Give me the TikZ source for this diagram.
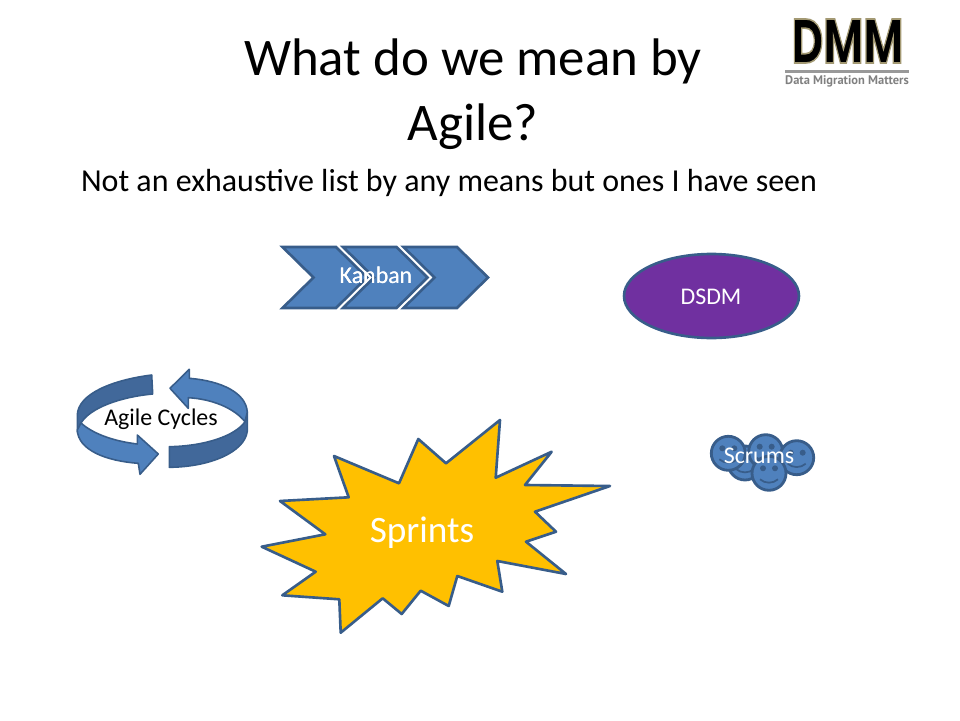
\documentclass[tikz,border=0pt]{standalone}
\usepackage{fontspec}
\setmainfont{Carlito}
\newfontfamily\logofont{Poppins}
\newfontfamily\tagfont{PT Sans}
\usetikzlibrary{shapes.geometric}
\definecolor{bluefill}{HTML}{4F81BD}
\definecolor{blueline}{HTML}{385D8A}
\definecolor{bluedark}{HTML}{41689A}
\definecolor{purplefill}{HTML}{7030A0}
\definecolor{starfill}{HTML}{FFC000}
\tikzset{
  shapeblue/.style={fill=bluefill,draw=blueline,line width=1.5pt,line join=round},
  banddark/.style={fill=bluedark,draw=blueline,line width=0.9pt,line join=round},
  bandlight/.style={fill=bluefill,draw=blueline,line width=0.9pt,line join=round},
  label/.style={text=white,inner sep=0pt,font=\fontsize{13.6}{16}\selectfont}
}
\newcommand{\chevron}[1]{
  \draw[shapeblue,line join=miter] (#1,247) -- ++(53.5,0) -- ++(31,30.5) -- ++(-31,30.5) -- ++(-53.5,0) -- ++(31,-30.5) -- cycle;
}
\newcommand{\logotext}[1]{\special{pdf:literal q 0.64 0.6 0.45 RG 2 Tr 0.9 w}#1\special{pdf:literal 0 Tr Q}}
\begin{document}
\begin{tikzpicture}[x=0.02cm,y=-0.02cm]
  \useasboundingbox (0,0) rectangle (960,720);
  \node[align=center,inner sep=0pt,font=\fontsize{30.1}{36.9}\selectfont] (title) at (473,94.5) {What do we mean by\\Agile?};
  \node[inner sep=0pt,font=\fontsize{18.2}{22}\selectfont] (subtitle) at (449,183) {Not an exhaustive list by any means but ones I have seen};

  \node[inner sep=0pt,font=\logofont\bfseries\fontsize{34}{34}\selectfont] (logo) at (847.5,41) {\scalebox{0.73}[1.05]{\logotext{DMM}}};
  \fill[gray!80] (785,69.5) rectangle (909,72.5);
  \node[inner sep=0pt,text=gray,font=\tagfont\bfseries\fontsize{7.1}{8}\selectfont] (tagline) at (847,81) {Data Migration Matters};

  \foreach \x in {282.5,343,403.5}
    \chevron{\x}
  \node[label] (kanban) at (376,275) {Kanban};

  \node[ellipse,draw=blueline,fill=purplefill,line width=1.5pt,minimum width=3.5cm,minimum height=1.68cm,inner sep=0pt] (dsdmshape) at (711.5,296) {};
  \node[label] (dsdm) at (711,297) {DSDM};

  \draw[banddark] (151.7,375) .. controls (112,380) and (78,394) .. (77.3,415) -- (77.3,432) -- (81,423)
    .. controls (90,408) and (120,397) .. (152.7,394) -- cycle;
  \draw[bandlight] (81,423) .. controls (92,433) and (112,441) .. (137.3,444) -- (137.3,435) -- (158.3,454)
    -- (140,474.3) -- (138.3,463.3) .. controls (106,461) and (78,450) .. (77.3,430) -- cycle;
  \draw[banddark] (169.3,446.7) .. controls (205,446) and (235,436) .. (245,421.7) -- (247.3,412) -- (247.3,431)
    .. controls (245,452) and (210,467) .. (169.3,467.3) -- cycle;
  \draw[bandlight] (170,388.3) -- (189.3,369.3) -- (189.3,378.3) .. controls (222,381) and (246,393) .. (247.3,412)
    -- (245,421.7) .. controls (234,408) and (212,399) .. (188.3,397.7) -- (188.3,408.3) -- cycle;
  \node[inner sep=0pt,font=\fontsize{13.6}{16}\selectfont] (cycles) at (161,419) {Agile Cycles};

  \draw[line width=1.5pt,draw=blueline,fill=starfill,line join=round]
    (500,420) -- (495.7,477.7) -- (551.7,451.7) -- (525,485) -- (610,486) -- (535,511.7) -- (556,531.7)
    -- (526,541.7) -- (566,574) -- (497.3,561) -- (502.3,591.7) -- (457.3,576) -- (448.7,606) -- (420.7,590.7)
    -- (401.7,614) -- (382.7,598.3) -- (340.7,632.7) -- (339.3,599.3) -- (282.3,595.3) -- (315.7,571.7)
    -- (261.7,546.7) -- (325.3,534.3) -- (280,501) -- (348.7,497.3) -- (334,456) -- (399,483.3)
    -- (418.3,439) -- (446,463.3) -- cycle;
  \node[label,font=\fontsize{21.2}{24}\selectfont] (sprints) at (422,533) {Sprints};

  \foreach \cx/\cy in {745/463,728.3/453.3,765.7/451.7,796.7/457.7,769/473.3} {
    \begin{scope}[shift={(\cx,\cy)}]
      \draw[shapeblue,line width=1.6pt] (0,0) circle (17);
      \fill[blueline] (-6,-5) circle (3) (6,-5) circle (3);
      \draw[blueline,line width=1pt] (-9,6) .. controls (-4,10.5) and (4,10.5) .. (9,6);
    \end{scope}
  }
  \node[label] (scrums) at (759,456) {Scrums};
\end{tikzpicture}
\end{document}
